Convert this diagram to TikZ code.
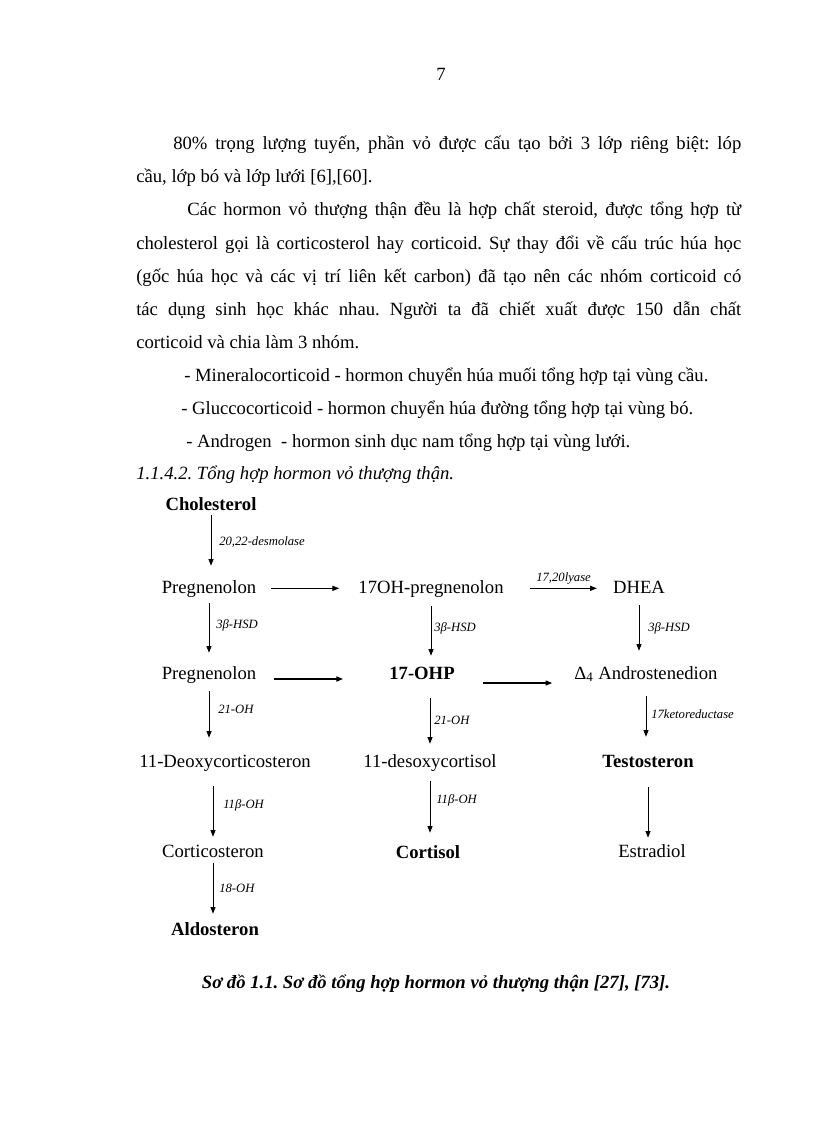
\documentclass[tikz,border=0pt]{standalone}
\usepackage{fontspec}
\setmainfont{Liberation Serif}
\usetikzlibrary{arrows.meta}
\frenchspacing
\tikzstyle{para} = [anchor=base west, inner sep=0pt, font=\fontsize{14}{17}\selectfont]
\tikzstyle{chem} = [anchor=base, inner sep=0pt, text height=10pt, text depth=3pt,
font=\fontsize{14}{17}\selectfont]
\tikzstyle{chembold} = [chem, font=\fontsize{14}{17}\selectfont\bfseries]
\tikzstyle{enz} = [anchor=west, inner sep=0pt, font=\fontsize{9.5}{11}\selectfont\itshape]
\tikzstyle{line} = [draw, line width=0.6pt, -{Triangle[length=5pt,width=3.8pt]}]

\begin{document}
\begin{tikzpicture}[x=0.75pt, y=-0.75pt]
	\fill[white] (0,0) rectangle (816,1123);
	% Page number and text
	\node [chem] (pageno) at (441,81) {7};
	\node [para] (line1) at (173,150) {\makebox[426pt][s]{80\% trọng lượng tuyến, phần vỏ được cấu tạo bởi 3 lớp riêng biệt: lóp}};
	\node [para] (line2) at (136,183) {cầu, lớp bó và lớp lưới [6],[60].};
	\node [para] (line3) at (187,216) {\makebox[415.5pt][s]{Các hormon vỏ thượng thận đều là hợp chất steroid, được tổng hợp từ}};
	\node [para] (line4) at (136,249) {\makebox[453.75pt][s]{cholesterol gọi là corticosterol hay corticoid. Sự thay đổi về cấu trúc húa học}};
	\node [para] (line5) at (136,282) {\makebox[453.75pt][s]{(gốc húa học và các vị trí liên kết carbon) đã tạo nên các nhóm corticoid có}};
	\node [para] (line6) at (136,315) {\makebox[453.75pt][s]{tác dụng sinh học khác nhau. Người ta đã chiết xuất được 150 dẫn chất}};
	\node [para] (line7) at (136,348) {corticoid và chia làm 3 nhóm.};
	\node [para] (mineral) at (184,381) {- Mineralocorticoid - hormon chuyển húa muối tổng hợp tại vùng cầu.};
	\node [para] (gluco) at (181,414) {- Gluccocorticoid - hormon chuyển húa đường tổng hợp tại vùng bó.};
	\node [para] (androgen) at (186,447) {- Androgen\ \ - hormon sinh dục nam tổng hợp tại vùng lưới.};
	\node [para, font=\fontsize{14}{17}\selectfont\itshape] (heading) at (136,479) {1.1.4.2. Tổng hợp hormon vỏ thượng thận.};
	
	% Place nodes
	\node [chembold] (chol) at (211,510) {Cholesterol};
	\node [chem] (preg1) at (209,593) {Pregnenolon};
	\node [chem] (oh17) at (431,593) {17OH-pregnenolon};
	\node [chem] (dhea) at (639,593) {DHEA};
	\node [chem] (preg2) at (209,679) {Pregnenolon};
	\node [chembold] (ohp) at (422,679) {17-OHP};
	\node [chem] (andro) at (646,679) {Δ\textsubscript{4} Androstenedion};
	\node [chem] (deoxy) at (225,767) {11-Deoxycorticosteron};
	\node [chem] (deso) at (430,767) {11-desoxycortisol};
	\node [chembold] (testo) at (648,767) {Testosteron};
	\node [chem] (cortico) at (213,857) {Corticosteron};
	\node [chembold] (cortisol) at (428,858) {Cortisol};
	\node [chem] (estra) at (652,857) {Estradiol};
	\node [chembold] (aldo) at (215,935) {Aldosteron};
	%
	\path [line, shorten <=0.75pt, shorten >=10.3pt] (chol.south) -- (chol.south |- preg1.north);
	\path [line, shorten <=4.5pt, shorten >=9.5pt] (preg1.south) -- (preg1.south |- preg2.north);
	\path [line, shorten <=6.75pt, shorten >=7.3pt] (oh17.south) -- (oh17.south |- ohp.north);
	\path [line, shorten <=6pt, shorten >=11pt] (dhea.south) -- (dhea.south |- andro.north);
	\path [line, shorten <=6pt, shorten >=11.8pt] (preg2.south) -- (preg2.south |- deoxy.north);
	\path [line, shorten <=11.25pt, shorten >=7.3pt] (ohp.south -| deso) -- (deso.north);
	\path [line, shorten <=9.75pt, shorten >=12.5pt] (andro.south) -- (andro.south |- testo.north);
	\path [line, shorten <=11.25pt, shorten >=5pt] (deoxy.south -| cortico) -- (cortico.north);
	\path [line, shorten <=7.5pt, shorten >=8.8pt] (deso.south) -- (deso.south |- cortisol.north);
	\path [line, shorten <=12pt, shorten >=4.3pt] (testo.south) -- (testo.south |- estra.north);
	\path [line, shorten <=1.5pt, shorten >=5.8pt] (cortico.south) -- (cortico.south |- aldo.north);
	%
	\path [line, shorten <=11.25pt, shorten >=14.25pt] (preg1.east) -- (preg1.east -| oh17.west);
	\path [line, shorten <=19.5pt, shorten >=12pt] (oh17.east) -- (oh17.east -| dhea.west);
	\path [line, line width=1.1pt, shorten <=13.5pt, shorten >=34.5pt] ([yshift=-3.5pt]preg2.east) -- ([yshift=-3.5pt]preg2.east -| ohp.west);
	\path [line, line width=0.8pt, shorten <=21pt, shorten >=16.5pt] ([yshift=-6.5pt]ohp.east) -- ([yshift=-6.5pt]ohp.east -| andro.west);
	
	% Enzymes
	\node [enz] (desmolase) at (219,542) {20,22-desmolase};
	\node [enz] (lyase) at (536,578) {17,20lyase};
	\node [enz] (hsdA) at (216,625) {3β-HSD};
	\node [enz] (hsdB) at (434,628) {3β-HSD};
	\node [enz] (hsdC) at (648,628) {3β-HSD};
	\node [enz] (ohA) at (218,709) {21-OH};
	\node [enz] (ohB) at (434,720) {21-OH};
	\node [enz] (keto) at (651,714) {17ketoreductase};
	\node [enz] (betaA) at (223,805) {11β-OH};
	\node [enz] (betaB) at (436,800) {11β-OH};
	\node [enz] (ohC) at (219,888) {18-OH};
	
	\node [anchor=base, inner sep=0pt, font=\fontsize{14}{17}\selectfont\bfseries\itshape] (caption) at (436,988) {Sơ đồ 1.1. Sơ đồ tổng hợp hormon vỏ thượng thận [27], [73].};
\end{tikzpicture}
\end{document}
